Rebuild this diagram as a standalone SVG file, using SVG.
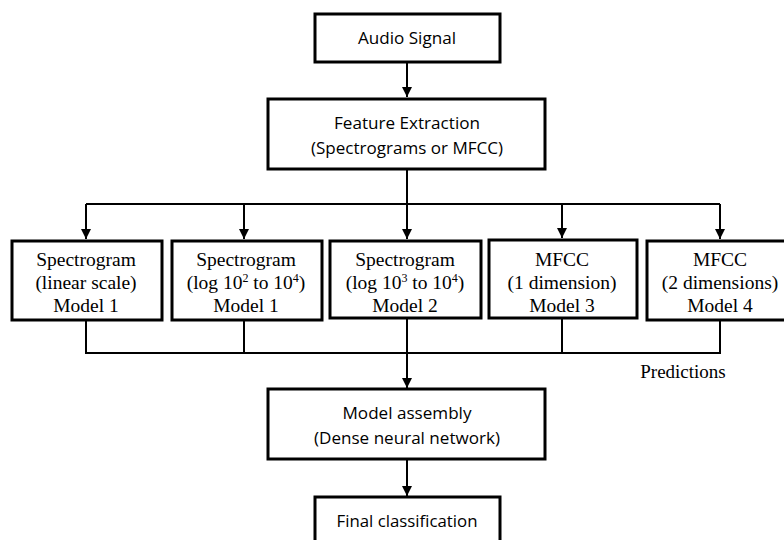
<svg xmlns="http://www.w3.org/2000/svg" width="784" height="540" viewBox="0 0 784 540">
<style>
.box{fill:#fff;stroke:#000;stroke-width:3}
.sans{font-family:"Open Sans","Noto Sans",sans-serif;font-size:17px;fill:#000;text-anchor:middle}
.serif{font-family:"Liberation Serif","Times New Roman",serif;font-size:19.5px;fill:#000;text-anchor:middle}
.ln{fill:none;stroke:#000;stroke-width:2}
.sup{font-size:12px}
</style>
<defs>
<marker id="ah" viewBox="0 0 10 10" refX="10" refY="5" markerWidth="10" markerHeight="10" markerUnits="userSpaceOnUse" orient="auto">
<path d="M0,0 L10,5 L0,10 Z" fill="#000"/>
</marker>
</defs>
<rect width="784" height="540" fill="#fff"/>
<g id="connectors">
<line class="ln" x1="407" y1="62" x2="407" y2="97" marker-end="url(#ah)"/>
<line class="ln" x1="407" y1="169" x2="407" y2="204"/>
<line class="ln" x1="86" y1="204" x2="720" y2="204"/>
<line class="ln" x1="86" y1="204" x2="86" y2="239" marker-end="url(#ah)"/>
<line class="ln" x1="244" y1="204" x2="244" y2="239" marker-end="url(#ah)"/>
<line class="ln" x1="407" y1="204" x2="407" y2="239" marker-end="url(#ah)"/>
<line class="ln" x1="562" y1="204" x2="562" y2="238" marker-end="url(#ah)"/>
<line class="ln" x1="720" y1="204" x2="720" y2="239" marker-end="url(#ah)"/>
<polyline class="ln" points="86,320 86,353 720,353 720,320"/>
<line class="ln" x1="244" y1="320" x2="244" y2="353"/>
<line class="ln" x1="562" y1="318" x2="562" y2="353"/>
<line class="ln" x1="407" y1="318" x2="407" y2="388" marker-end="url(#ah)"/>
<line class="ln" x1="407" y1="459" x2="407" y2="496" marker-end="url(#ah)"/>
<text class="serif" x="683" y="378" style="font-size:19px">Predictions</text>
</g>
<g id="audio">
<rect class="box" x="315" y="14" width="185" height="48"/>
<text class="sans" x="407" y="44" textLength="98" lengthAdjust="spacingAndGlyphs">Audio Signal</text>
</g>
<g id="feature">
<rect class="box" x="268" y="99" width="277" height="70"/>
<text class="sans" x="407" y="129" textLength="146" lengthAdjust="spacingAndGlyphs">Feature Extraction</text>
<text class="sans" x="407" y="154" textLength="192" lengthAdjust="spacingAndGlyphs">(Spectrograms or MFCC)</text>
</g>
<g id="m1">
<rect class="box" x="12" y="241" width="150" height="79"/>
<text class="serif" x="86" y="266">Spectrogram</text>
<text class="serif" x="86" y="289">(linear scale)</text>
<text class="serif" x="86" y="312">Model 1</text>
</g>
<g id="m2">
<rect class="box" x="172" y="241" width="150" height="79"/>
<text class="serif" x="246" y="266">Spectrogram</text>
<text class="serif" x="246" y="289">(log 10<tspan class="sup" dy="-7">2</tspan><tspan dy="7"> to 10</tspan><tspan class="sup" dy="-7">4</tspan><tspan dy="7">)</tspan></text>
<text class="serif" x="246" y="312">Model 1</text>
</g>
<g id="m3">
<rect class="box" x="330" y="241" width="151" height="77"/>
<text class="serif" x="405" y="266">Spectrogram</text>
<text class="serif" x="405" y="289">(log 10<tspan class="sup" dy="-7">3</tspan><tspan dy="7"> to 10</tspan><tspan class="sup" dy="-7">4</tspan><tspan dy="7">)</tspan></text>
<text class="serif" x="405" y="312">Model 2</text>
</g>
<g id="m4">
<rect class="box" x="489" y="240" width="148" height="78"/>
<text class="serif" x="562" y="266">MFCC</text>
<text class="serif" x="562" y="289">(1 dimension)</text>
<text class="serif" x="562" y="312">Model 3</text>
</g>
<g id="m5">
<rect class="box" x="647" y="241" width="148" height="79"/>
<text class="serif" x="720" y="266">MFCC</text>
<text class="serif" x="720" y="289">(2 dimensions)</text>
<text class="serif" x="720" y="312">Model 4</text>
</g>
<g id="assembly">
<rect class="box" x="268" y="389" width="277" height="70"/>
<text class="sans" x="407" y="419" textLength="129" lengthAdjust="spacingAndGlyphs">Model assembly</text>
<text class="sans" x="407" y="444" textLength="186" lengthAdjust="spacingAndGlyphs">(Dense neural network)</text>
</g>
<g id="final">
<rect class="box" x="315" y="497" width="185" height="60"/>
<text class="sans" x="407" y="527" textLength="141" lengthAdjust="spacingAndGlyphs">Final classification</text>
</g>
</svg>
